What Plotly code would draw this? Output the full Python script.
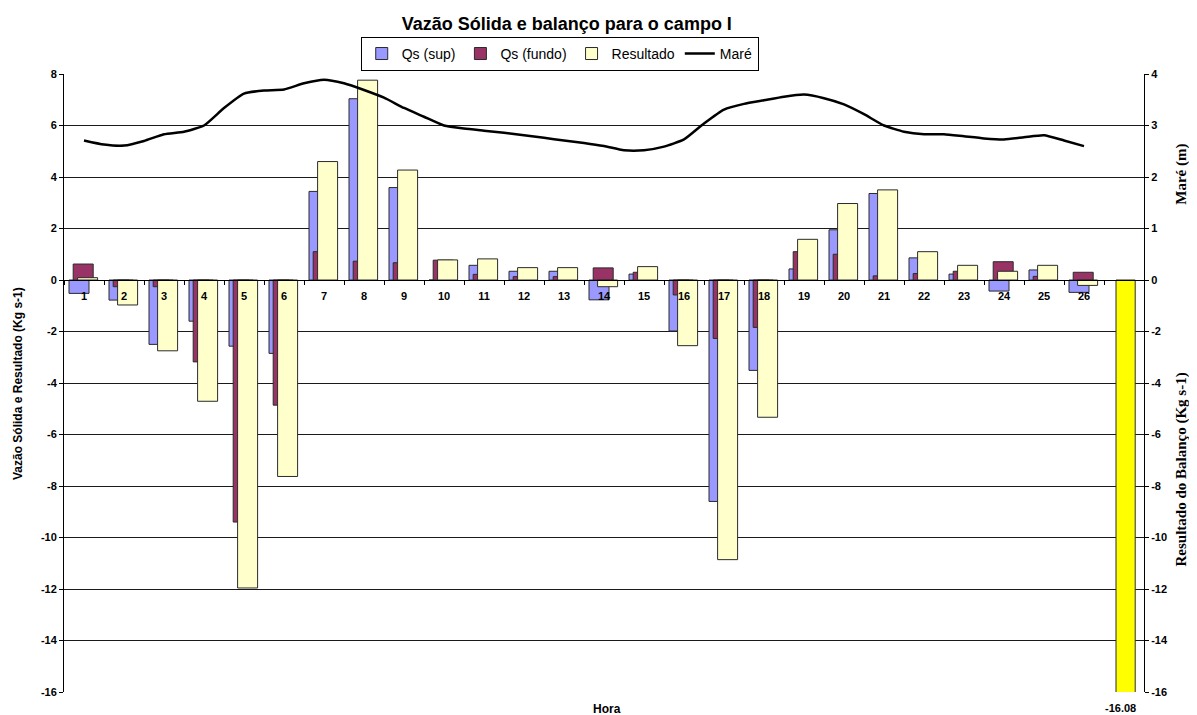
import plotly.graph_objects as go

# ---------------- data ----------------
hours = list(range(1, 27))
hour_labels = [str(h) for h in hours]

qs_sup = [-0.52, -0.78, -2.50, -1.60, -2.57, -2.85, 3.44, 7.04, 3.59, 0.00,
          0.57, 0.34, 0.34, -0.77, 0.23, -1.98, -8.60, -3.51, 0.43, 1.95,
          3.36, 0.86, 0.23, -0.43, 0.39, -0.48]
qs_fundo = [0.62, -0.26, -0.26, -3.18, -9.40, -4.86, 1.10, 0.73, 0.67, 0.77,
            0.22, 0.13, 0.13, 0.47, 0.30, -0.58, -2.27, -1.84, 1.10, 1.00,
            0.16, 0.25, 0.34, 0.71, 0.14, 0.30]
resultado = [0.09, -0.97, -2.75, -4.71, -11.96, -7.63, 4.60, 7.76, 4.27, 0.78,
             0.82, 0.48, 0.48, -0.26, 0.52, -2.55, -10.86, -5.33, 1.58, 2.97,
             3.50, 1.10, 0.57, 0.34, 0.57, -0.21]

balanco_pos = [27]
balanco_total = [-16.08]
balanco_label = ["-16.08"]

tide_hours = [1, 1.5, 2, 2.5, 3, 3.5, 4, 4.5, 5, 5.5, 6, 6.5, 7, 7.5, 8, 8.5, 9, 9.5,
              10, 10.5, 11, 11.5, 12, 12.5, 13, 13.5, 14, 14.5, 15, 15.5, 16, 16.5,
              17, 17.5, 18, 18.5, 19, 19.5, 20, 20.5, 21, 21.5, 22, 22.5, 23, 23.5,
              24, 24.5, 25, 25.5, 26]
tide_m = [2.71, 2.63, 2.61, 2.70, 2.83, 2.88, 3.00, 3.34, 3.62, 3.68, 3.70, 3.82,
          3.89, 3.82, 3.69, 3.54, 3.34, 3.17, 3.00, 2.94, 2.90, 2.86, 2.81, 2.76,
          2.71, 2.66, 2.60, 2.52, 2.52, 2.59, 2.73, 3.04, 3.31, 3.42, 3.49, 3.56,
          3.60, 3.53, 3.41, 3.22, 3.00, 2.88, 2.83, 2.83, 2.79, 2.75, 2.73, 2.77,
          2.81, 2.71, 2.60]

left_tickvals = [8, 6, 4, 2, 0, -2, -4, -6, -8, -10, -12, -14, -16]
left_ticktext = ["8", "6", "4", "2", "0", "-2", "-4", "-6", "-8", "-10", "-12", "-14", "-16"]
right_tickvals = [4, 3, 2, 1, 0, -1, -2, -3, -4, -5, -6, -7, -8]
right_ticktext = ["4", "3", "2", "1", "0", "-2", "-4", "-6", "-8", "-10", "-12", "-14", "-16"]

# ---------------- figure ----------------
SANS = "Liberation Sans, Arial, sans-serif"
SERIF = "Liberation Serif, Times New Roman, serif"
edge = dict(color="#2a2a2a", width=1)

fig = go.Figure()
fig.add_trace(go.Bar(x=hours, y=qs_sup, name="Qs (sup)", width=0.5, offset=-0.375,
                     marker=dict(color="#9999FF", line=edge)))
fig.add_trace(go.Bar(x=hours, y=qs_fundo, name="Qs (fundo)", width=0.5, offset=-0.27,
                     marker=dict(color="#993366", line=edge)))
fig.add_trace(go.Bar(x=hours, y=resultado, name="Resultado", width=0.5, offset=-0.16,
                     marker=dict(color="#FFFFCC", line=edge)))
fig.add_trace(go.Scatter(x=tide_hours, y=tide_m, name="Maré", yaxis="y2", mode="lines",
                         line=dict(color="black", width=2.5, shape="spline", smoothing=0.5)))
fig.add_trace(go.Bar(x=balanco_pos, y=balanco_total, showlegend=False, width=0.48, offset=-0.2,
                     marker=dict(color="#FFFF00", line=edge)))

fig.update_layout(
    width=1189, height=707,
    margin=dict(l=56, r=53, t=66, b=23),
    plot_bgcolor="white", paper_bgcolor="white",
    barmode="overlay",
    title=dict(text="Vazão Sólida e balanço para o campo I", x=0.470, xref="container",
               y=0.978, yref="container", yanchor="middle", xanchor="center",
               font=dict(family=SANS, size=18, color="black", weight="bold")),
    legend=dict(orientation="h", x=0.459, xanchor="center", y=1.06, yanchor="top",
                bordercolor="black", borderwidth=1, bgcolor="white",
                font=dict(family=SANS, size=14, color="black"),
                itemwidth=30, tracegroupgap=0),
    xaxis=dict(range=[0.5, 27.5], tickvals=hours, ticktext=hour_labels, ticks="",
               showline=True, linecolor="black", linewidth=1,
               anchor="free", position=16 / 24, showgrid=False, zeroline=False,
               ticklabelstandoff=6,
               tickfont=dict(family=SANS, size=11, color="black", weight="bold"),
               minor=dict(ticks="outside", tick0=0.5, dtick=1, ticklen=4,
                          tickcolor="black", showgrid=False)),
    yaxis=dict(range=[-16, 8], tickvals=left_tickvals, ticktext=left_ticktext,
               showgrid=True, gridcolor="#1a1a1a",
               gridwidth=1, showline=True, linecolor="black", ticks="outside", ticklen=4,
               tickcolor="black", zeroline=False,
               tickfont=dict(family=SANS, size=11, color="black", weight="bold")),
    yaxis2=dict(range=[-8, 4], overlaying="y", side="right", anchor="x",
                tickvals=right_tickvals, ticktext=right_ticktext, showgrid=False,
                showline=True, linecolor="black", ticks="outside", ticklen=4,
                tickcolor="black", zeroline=False,
                tickfont=dict(family=SANS, size=11, color="black", weight="bold")),
    annotations=[
        dict(text=balanco_label[0], xref="x", yref="paper", x=balanco_pos[0], y=-0.026,
             xanchor="center", yanchor="middle", xshift=-4, showarrow=False,
             font=dict(family=SANS, size=11, color="black", weight="bold")),
        dict(text="Vazão Sólida e Resultado (Kg s-1)", xref="paper", yref="paper",
             x=-0.0426, y=0.5, xanchor="center", yanchor="middle", textangle=-90,
             showarrow=False,
             font=dict(family=SANS, size=12, color="black", weight="bold")),
        dict(text="Maré (m)", xref="paper", yref="paper", x=1.0352, y=0.837,
             xanchor="center", yanchor="middle", textangle=-90, showarrow=False,
             font=dict(family=SERIF, size=15, color="black", weight="bold")),
        dict(text="Resultado do Balanço (Kg s-1)", xref="paper", yref="paper",
             x=1.0352, y=0.36, xanchor="center", yanchor="middle", textangle=-90,
             showarrow=False,
             font=dict(family=SERIF, size=15, color="black", weight="bold")),
        dict(text="Hora", xref="paper", yref="paper", x=0.503, y=-0.028,
             xanchor="center", yanchor="middle", showarrow=False,
             font=dict(family=SANS, size=12, color="black", weight="bold")),
    ],
)

fig.write_html("out.html")
